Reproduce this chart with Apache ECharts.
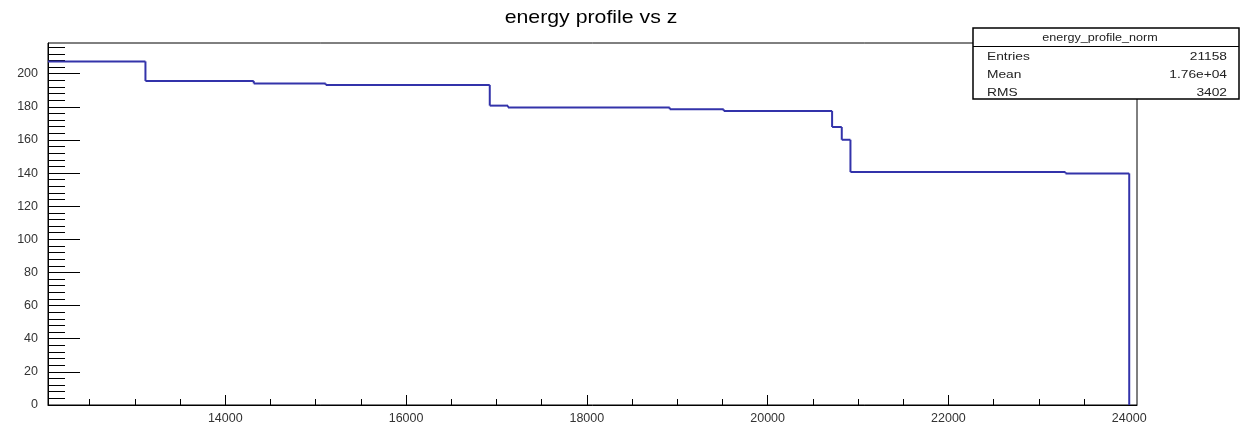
<!DOCTYPE html>
<html>
<head>
<meta charset="utf-8">
<script src="https://cdn.jsdelivr.net/npm/echarts@6/dist/echarts.min.js"></script>
<style>
html,body{margin:0;padding:0;background:#fff;}
#chart{width:1243px;height:425px;}
</style>
</head>
<body>
<div id="chart"></div>
<script>
// ---- data ----
const titleText = 'energy profile vs z';
const statsTitle = 'energy_profile_norm';
const statsLabels = ['Entries', 'Mean', 'RMS'];
const statsValues = ['21158', '1.76e+04', '3402'];
// bin i spans binEdges[i] .. binEdges[i+1] with height binValues[i]
const binEdges = [12039, 13117, 14315, 15111, 16926, 17128, 18917, 19514, 20713, 20820, 20916, 23295, 24000];
const binValues = [207.4, 195.6, 194.1, 193.2, 180.7, 179.6, 178.5, 177.5, 167.8, 160.1, 140.6, 139.8];
const xMajorTicks = [14000, 16000, 18000, 20000, 22000, 24000];
const yMajorTicks = [0, 20, 40, 60, 80, 100, 120, 140, 160, 180, 200];
const xRange = [12039, 24086];
const yRange = [0, 218.5];

(function(){
  const chart = echarts.init(document.getElementById('chart'), null, {renderer:'canvas'});

  // one data item per bin: [left edge, right edge, value, next value]
  const binData = [];
  for (let i = 0; i < binValues.length; i++) {
    const next = i + 1 < binValues.length ? binValues[i + 1] : 0;
    binData.push([binEdges[i], binEdges[i + 1], binValues[i], next]);
  }

  const xMinor = [];
  for (let v = 12500; v <= 24000; v += 500) if (xMajorTicks.indexOf(v) < 0) xMinor.push(v);
  const yMinor = [];
  for (let v = 4; v < yRange[1]; v += 4) if (v % 20 !== 0) yMinor.push(v);

  const font = 'Liberation Sans, Arial, sans-serif';
  const labelFont = {fontFamily:font, fontSize:12.5, color:'#333'};
  const lineColor = '#3333aa';

  const graphic = [
    {type:'text', x:591, y:18, scaleX:1.12, z:100,
     style:{text:titleText, font:'19px ' + font, fill:'#000', align:'center', verticalAlign:'middle', textAlign:'center', textVerticalAlign:'middle'}},
    {type:'rect', shape:{x:973, y:28, width:266, height:71}, z:100,
     style:{fill:'#fff', stroke:'#000', lineWidth:1.5}},
    {type:'line', shape:{x1:973, y1:46.5, x2:1239, y2:46.5}, z:101,
     style:{stroke:'#000', lineWidth:1}},
    {type:'text', x:1100, y:38, scaleX:1.2, z:102,
     style:{text:statsTitle, font:'10.5px ' + font, fill:'#222', align:'center', verticalAlign:'middle', textAlign:'center', textVerticalAlign:'middle'}}
  ];
  const rowY = [57, 75, 93];
  for (let i = 0; i < statsLabels.length; i++) {
    graphic.push({type:'text', x:987, y:rowY[i], scaleX:1.25, z:102,
      style:{text:statsLabels[i], font:'11px ' + font, fill:'#222', align:'left', verticalAlign:'middle', textAlign:'left', textVerticalAlign:'middle'}});
    graphic.push({type:'text', x:1227, y:rowY[i], scaleX:1.25, z:102,
      style:{text:statsValues[i], font:'11px ' + font, fill:'#222', align:'right', verticalAlign:'middle', textAlign:'right', textVerticalAlign:'middle'}});
  }

  const option = {
    animation:false,
    backgroundColor:'#fff',
    grid:{left:48, top:43, right:106, bottom:20, show:true, borderColor:'#000', borderWidth:1, backgroundColor:'transparent'},
    xAxis:[
      {type:'value', min:xRange[0], max:xRange[1], position:'bottom',
       splitLine:{show:false},
       axisLine:{show:true, onZero:false, lineStyle:{color:'#000', width:1}},
       axisTick:{show:true, inside:true, length:10, customValues:xMajorTicks, lineStyle:{color:'#000', width:1}},
       axisLabel:{show:true, customValues:xMajorTicks, margin:7, formatter:function(v){return String(v);}, ...labelFont}},
      {type:'value', min:xRange[0], max:xRange[1], position:'bottom',
       splitLine:{show:false},
       axisLine:{show:false},
       axisTick:{show:true, inside:true, length:6, customValues:xMinor, lineStyle:{color:'#000', width:1}},
       axisLabel:{show:false}}
    ],
    yAxis:[
      {type:'value', min:yRange[0], max:yRange[1], position:'left',
       splitLine:{show:false},
       axisLine:{show:true, onZero:false, lineStyle:{color:'#000', width:1}},
       axisTick:{show:true, inside:true, length:32, customValues:yMajorTicks, lineStyle:{color:'#000', width:1}},
       axisLabel:{show:true, customValues:yMajorTicks, margin:10, ...labelFont}},
      {type:'value', min:yRange[0], max:yRange[1], position:'left',
       splitLine:{show:false},
       axisLine:{show:false},
       axisTick:{show:true, inside:true, length:17, customValues:yMinor, lineStyle:{color:'#000', width:1}},
       axisLabel:{show:false}}
    ],
    series:[{
      type:'custom', xAxisIndex:0, yAxisIndex:0, data:binData, clip:true, z:5,
      encode:{x:[0,1], y:[2,3]},
      renderItem:function(params, api){
        const x0 = api.value(0), x1 = api.value(1), v = api.value(2), vn = api.value(3);
        const p0 = api.coord([x0, v]);
        const p1 = api.coord([x1, v]);
        const p2 = api.coord([x1, vn]);
        const style = {stroke:lineColor, lineWidth:2, fill:null};
        return {type:'group', children:[
          {type:'line', shape:{x1:p0[0], y1:p0[1], x2:p1[0], y2:p1[1]}, style:style},
          {type:'line', shape:{x1:p1[0], y1:p1[1], x2:p2[0], y2:p2[1]}, style:style}
        ]};
      }
    }],
    graphic:graphic
  };
  chart.setOption(option);
})();
</script>
</body>
</html>
